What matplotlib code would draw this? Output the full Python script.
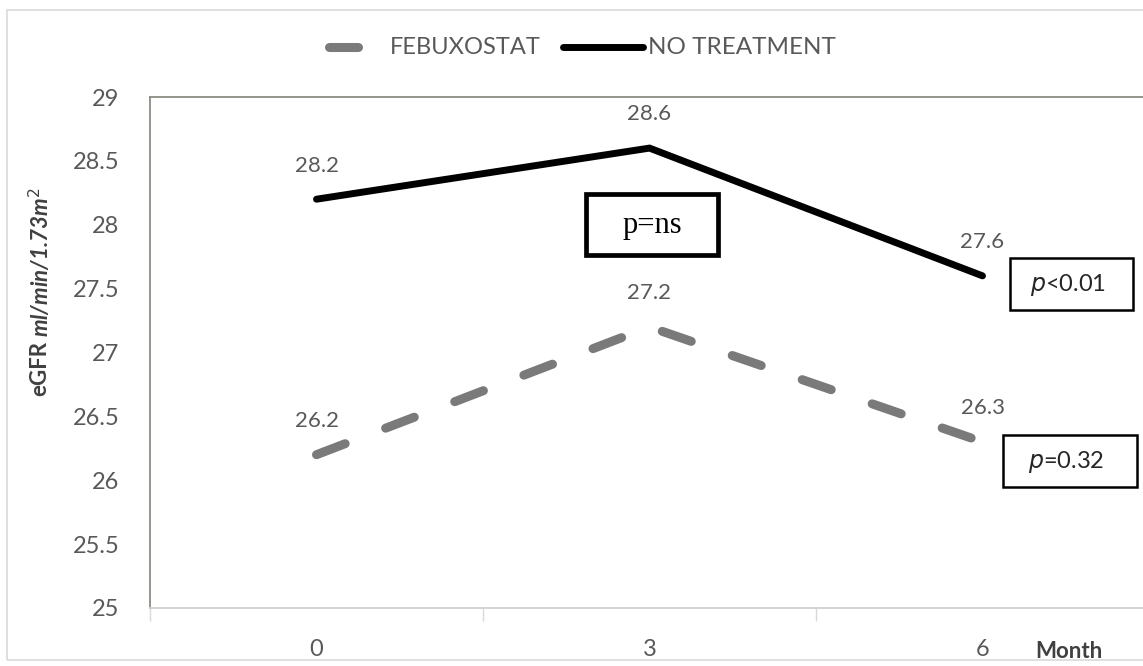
import matplotlib
matplotlib.use("Agg")
import matplotlib.pyplot as plt
from matplotlib.patches import Rectangle
from matplotlib.lines import Line2D

months = [0, 3, 6]
month_labels = ["0", "3", "6"]
febuxostat = [26.2, 27.2, 26.3]
no_treatment = [28.2, 28.6, 27.6]
yticks = [25, 25.5, 26, 26.5, 27, 27.5, 28, 28.5, 29]
ytick_labels = ["25", "25.5", "26", "26.5", "27", "27.5", "28", "28.5", "29"]
series_names = ["FEBUXOSTAT", "NO TREATMENT"]

FONT = ["Lato", "DejaVu Sans"]
GRAY = "#595959"
FEB_COLOR = "#7a7a7a"

fig = plt.figure(figsize=(11.43, 6.66), dpi=100)
W, H = 1143, 666

def fx(px):
    return px / W

def fy(py):
    return 1 - py / H

def box(x0, y0, x1, y1, lw):
    fig.patches.append(Rectangle((fx(x0), fy(y1)), fx(x1) - fx(x0), fy(y0) - fy(y1),
                                 transform=fig.transFigure, fill=True, fc="white",
                                 edgecolor="black", lw=lw, zorder=5))

# outer chart border
fig.patches.append(Rectangle((fx(7), fy(660)), fx(1143 - 7 + 5), fy(10) - fy(660),
                             transform=fig.transFigure, fill=False,
                             edgecolor="#d9d9d9", lw=1.2))

ax = fig.add_axes([fx(150), fy(608), fx(1149 - 150), fy(97) - fy(608)])
ax.set_xlim(-1.5, 7.5)
ax.set_ylim(25, 29)

l1, = ax.plot(months, febuxostat, color=FEB_COLOR, lw=6.5, solid_capstyle="round",
              dash_capstyle="round", linestyle=(0, (3.4, 4.8)), zorder=3)
l2, = ax.plot(months, no_treatment, color="black", lw=5.0, solid_joinstyle="miter",
              solid_capstyle="round", zorder=3)

for x, y in zip(months, no_treatment):
    ax.annotate(f"{y:.1f}", (x, y), xytext=(0, 17), textcoords="offset points",
                ha="center", va="bottom", fontsize=16, color=GRAY, family=FONT)
for x, y in zip(months, febuxostat):
    ax.annotate(f"{y:.1f}", (x, y), xytext=(0, 17), textcoords="offset points",
                ha="center", va="bottom", fontsize=16, color=GRAY, family=FONT)

ax.set_yticks(yticks)
ax.set_yticklabels(ytick_labels, fontsize=17, color=GRAY, family=FONT)
ax.tick_params(axis="y", length=0, pad=22)

ax.set_xticks([-1.5, 1.5, 4.5], labels=["", "", ""])
ax.set_xticks(months, labels=month_labels, minor=True)
ax.tick_params(axis="x", which="major", length=9, color="#d9d9d9", width=1)
ax.tick_params(axis="x", which="minor", length=0, pad=22, labelsize=17,
               labelcolor=GRAY)
for t in ax.get_xticklabels(minor=True):
    t.set_family(FONT)

for s in ["left", "top"]:
    ax.spines[s].set_color("#8c8c82")
    ax.spines[s].set_linewidth(1.3)
ax.spines["bottom"].set_color("#d0d0d0")
ax.spines["bottom"].set_linewidth(1.3)
ax.spines["right"].set_visible(False)

# Month label
fig.text(fx(1069), fy(652), "Month", fontsize=16, fontweight="bold", color="#404040",
         family=FONT, ha="center", va="center")

# y label: eGFR (bold) + ml/min/1.73m² (bold italic)
t1 = fig.text(fx(40), fy(396), "eGFR", rotation=90, fontsize=16, fontweight="bold",
              color="#404040", family=FONT, ha="center", va="bottom")
fig.canvas.draw()
bb = t1.get_window_extent()
top = bb.y1 / (fig.dpi * 6.66)
fig.text(fx(40), top + 0.006, r"ml/min/1.73m$^{2}$", rotation=90, fontsize=16,
         fontweight="bold", style="italic", color="#404040", family=FONT,
         ha="center", va="bottom")

# legend (drawn manually to match Excel layout)
fig.add_artist(Line2D([fx(329), fx(358)], [fy(47), fy(47)], transform=fig.transFigure,
                      color=FEB_COLOR, lw=6.5, solid_capstyle="round"))
fig.text(fx(390), fy(47), series_names[0], fontsize=17, color=GRAY, family=FONT,
         ha="left", va="center")
fig.add_artist(Line2D([fx(563), fx(643)], [fy(47), fy(47)], transform=fig.transFigure,
                      color="black", lw=5.0, solid_capstyle="round"))
fig.text(fx(648), fy(47), series_names[1], fontsize=17.5, color=GRAY, family=FONT,
         ha="left", va="center")

# p-value boxes
box(586, 194, 718, 255, 3.4)
fig.text(fx(652), fy(226), "p=ns", fontsize=22, family="Liberation Serif",
         ha="center", va="center", zorder=6)
box(1010, 258, 1133, 310, 1.8)
fig.text(fx(1068), fy(285), r"$\it{p}$<0.01", fontsize=17, family=FONT, color="#262626",
         ha="center", va="center", zorder=6)
box(1003, 435, 1137, 487, 1.8)
fig.text(fx(1066), fy(462), r"$\it{p}$=0.32", fontsize=17, family=FONT, color="#262626",
         ha="center", va="center", zorder=6)

fig.savefig("out.png", dpi=100)
